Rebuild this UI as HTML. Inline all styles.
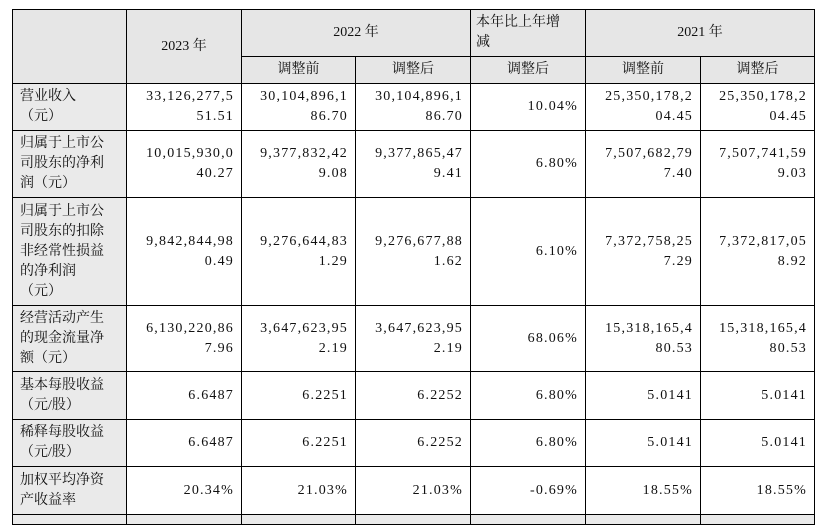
<!DOCTYPE html>
<html><head><meta charset="utf-8"><style>
body{margin:0;width:827px;height:517px;background:#fff;overflow:hidden;position:relative;font-family:"Liberation Serif","Noto Serif CJK SC",serif;}
table{position:absolute;left:12px;top:9px;border-collapse:collapse;table-layout:fixed;font-size:14px;color:#111;}
td{border:1.5px solid #000;padding:0 7px;line-height:20px;text-align:right;vertical-align:middle;letter-spacing:1.2px;}
td.l{text-align:left;background:#eaeaea;padding-left:7px;letter-spacing:0;}
td.h{text-align:center;background:#e6e6e6;letter-spacing:0;}
</style></head><body>
<table>
<colgroup><col style="width:114px"><col style="width:115px"><col style="width:114px"><col style="width:115px"><col style="width:115px"><col style="width:115px"><col style="width:114px"></colgroup>
<tr style="height:47px"><td class="h" rowspan="2"></td><td class="h" rowspan="2">2023 年</td><td class="h" colspan="2">2022 年</td><td class="h" style="text-align:left;padding-left:5px">本年比上年增<br>减</td><td class="h" colspan="2">2021 年</td></tr>
<tr style="height:27px"><td class="h">调整前</td><td class="h">调整后</td><td class="h">调整后</td><td class="h">调整前</td><td class="h">调整后</td></tr>
<tr style="height:47px"><td class="l">营业收入<br>（元）</td><td>33,126,277,5<br>51.51</td><td>30,104,896,1<br>86.70</td><td>30,104,896,1<br>86.70</td><td>10.04%</td><td>25,350,178,2<br>04.45</td><td>25,350,178,2<br>04.45</td></tr>
<tr style="height:67px"><td class="l">归属于上市公<br>司股东的净利<br>润（元）</td><td>10,015,930,0<br>40.27</td><td>9,377,832,42<br>9.08</td><td>9,377,865,47<br>9.41</td><td>6.80%</td><td>7,507,682,79<br>7.40</td><td>7,507,741,59<br>9.03</td></tr>
<tr style="height:108px"><td class="l">归属于上市公<br>司股东的扣除<br>非经常性损益<br>的净利润<br>（元）</td><td>9,842,844,98<br>0.49</td><td>9,276,644,83<br>1.29</td><td>9,276,677,88<br>1.62</td><td>6.10%</td><td>7,372,758,25<br>7.29</td><td>7,372,817,05<br>8.92</td></tr>
<tr style="height:66px"><td class="l">经营活动产生<br>的现金流量净<br>额（元）</td><td>6,130,220,86<br>7.96</td><td>3,647,623,95<br>2.19</td><td>3,647,623,95<br>2.19</td><td>68.06%</td><td>15,318,165,4<br>80.53</td><td>15,318,165,4<br>80.53</td></tr>
<tr style="height:48px"><td class="l">基本每股收益<br>（元/股）</td><td>6.6487</td><td>6.2251</td><td>6.2252</td><td>6.80%</td><td>5.0141</td><td>5.0141</td></tr>
<tr style="height:47px"><td class="l">稀释每股收益<br>（元/股）</td><td>6.6487</td><td>6.2251</td><td>6.2252</td><td>6.80%</td><td>5.0141</td><td>5.0141</td></tr>
<tr style="height:48px"><td class="l">加权平均净资<br>产收益率</td><td>20.34%</td><td>21.03%</td><td>21.03%</td><td>-0.69%</td><td>18.55%</td><td>18.55%</td></tr>
<tr style="height:10px"><td class="l"></td><td style="background:#eaeaea"></td><td style="background:#eaeaea"></td><td style="background:#eaeaea"></td><td style="background:#eaeaea"></td><td style="background:#eaeaea"></td><td style="background:#eaeaea"></td></tr>
</table>
</body></html>
